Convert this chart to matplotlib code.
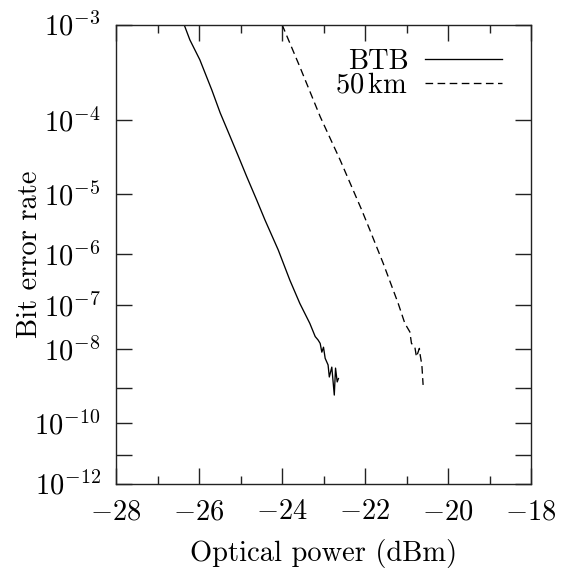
import matplotlib
matplotlib.use('Agg')
import matplotlib.pyplot as plt
import numpy as np
from matplotlib.ticker import FixedLocator, FuncFormatter, MultipleLocator

plt.rcParams['font.family'] = 'serif'
plt.rcParams['font.serif'] = ['cmr10']
plt.rcParams['mathtext.fontset'] = 'cm'
plt.rcParams['axes.formatter.use_mathtext'] = True
plt.rcParams['axes.unicode_minus'] = True
plt.rcParams['lines.scale_dashes'] = False

# measured BER curves (optical power in dBm, bit error rate)
btb_power = [-26.36, -26.22, -25.98, -25.69, -25.49, -25.25, -25.05, -24.85,
             -24.61, -24.41, -24.09, -23.81, -23.57, -23.33, -23.20, -23.13,
             -23.08, -23.04, -23.00, -22.96, -22.89, -22.86, -22.80, -22.74,
             -22.71, -22.67, -22.64]
btb_ber = [1.0e-3, 7.2e-4, 4.6e-4, 2.2e-4, 1.21e-4, 6.2e-5, 3.4e-5, 1.78e-5,
           8.0e-6, 3.85e-6, 1.18e-6, 3.2e-7, 1.08e-7, 4.0e-8, 2.0e-8, 1.66e-8,
           1.38e-8, 8.5e-9, 1.12e-8, 6.0e-9, 4.1e-9, 2.0e-9, 3.6e-9, 6.5e-10,
           3.4e-9, 1.48e-9, 1.82e-9]

km50_power = [-24.00, -23.57, -23.08, -22.60, -22.08, -21.88, -21.56, -21.20,
              -21.04, -20.92, -20.88, -20.80, -20.76, -20.69, -20.67, -20.63,
              -20.60]
km50_ber = [1.0e-3, 3.9e-4, 1.09e-4, 3.05e-5, 5.6e-6, 2.6e-6, 6.7e-7, 1.08e-7,
            4.0e-8, 2.57e-8, 1.38e-8, 1.15e-8, 6.5e-9, 1.05e-8, 7.2e-9, 4.1e-9,
            1.23e-9]

ber_ticks = [1e-3, 1e-4, 1e-5, 1e-6, 1e-7, 1e-8, 1e-9, 1e-10, 1e-11, 1e-12]
ber_labels = {1e-3: -3, 1e-4: -4, 1e-5: -5, 1e-6: -6, 1e-7: -7, 1e-8: -8,
              1e-10: -10, 1e-12: -12}


def fwd(b):
    b = np.clip(np.asarray(b, dtype=float), 1e-300, 0.999999)
    return -np.log10(-np.log10(b))


def inv(y):
    return 10.0 ** (-(10.0 ** (-np.asarray(y, dtype=float))))


def ylab(v, pos):
    for k, e in ber_labels.items():
        if abs(np.log10(v) - np.log10(k)) < 1e-6:
            return r'$10^{%d}$' % e
    return ''


fs = 20.5
fig = plt.figure(figsize=(5.66, 5.70), dpi=100)
ax = fig.add_axes([116 / 566, 1 - 483.5 / 570, 415 / 566, 459 / 570])

ax.plot(btb_power, btb_ber, color='black', lw=0.95, label='BTB')
ax.plot(km50_power, km50_ber, color='black', lw=0.95, dashes=(5.5, 3.2),
        label=r'$\mathrm{50\,km}$')

ax.set_yscale('function', functions=(fwd, inv))
ax.set_ylim(1e-12, 1e-3)
ax.set_xlim(-28, -18)
ax.yaxis.set_major_locator(FixedLocator(ber_ticks))
ax.yaxis.set_major_formatter(FuncFormatter(ylab))
ax.yaxis.set_minor_locator(FixedLocator([]))
ax.xaxis.set_major_locator(MultipleLocator(2))
ax.xaxis.set_minor_locator(MultipleLocator(1))

ax.tick_params(which='both', direction='in', top=True, right=True,
               labelsize=fs, colors='#222222', labelcolor='black')
ax.tick_params(which='major', length=11.5, width=1.0)
ax.tick_params(which='minor', length=5.8, width=1.0)
ax.tick_params(axis='x', pad=11)
ax.tick_params(axis='y', pad=11)
for s in ax.spines.values():
    s.set_linewidth(1.0)
    s.set_color('#222222')

ax.set_xlabel('Optical power (dBm)', fontsize=fs, labelpad=10)
ax.set_ylabel('Bit error rate', fontsize=fs)
ax.yaxis.set_label_coords(-0.177, 0.5)

ax.legend(loc='upper right', bbox_to_anchor=(0.972, 0.985), frameon=False,
          fontsize=fs, markerfirst=False, handlelength=2.7,
          labelspacing=-0.08, handletextpad=0.6, borderaxespad=0.2)

fig.savefig('out.png', dpi=100)
